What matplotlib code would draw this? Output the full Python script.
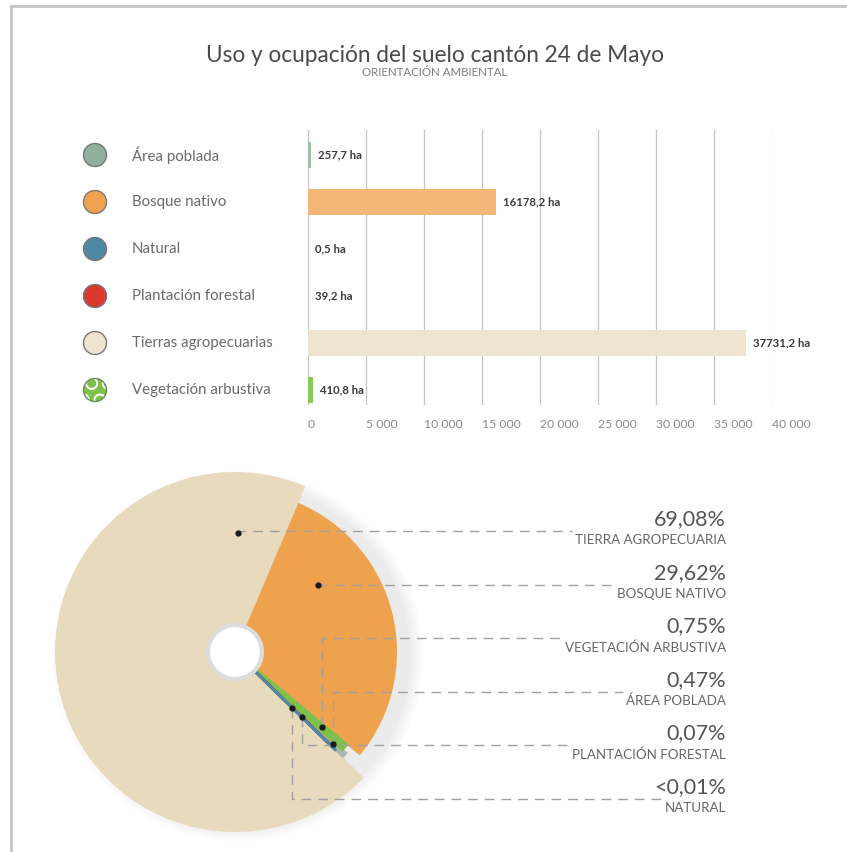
import numpy as np
import matplotlib
matplotlib.use("Agg")
import matplotlib.pyplot as plt
from matplotlib.patches import Wedge, Circle

plt.rcParams["font.family"] = ["Lato", "DejaVu Sans"]

# Data
categories = ["Área poblada", "Bosque nativo", "Natural",
              "Plantación forestal", "Tierras agropecuarias", "Vegetación arbustiva"]
hectares = [257.7, 16178.2, 0.5, 39.2, 37731.2, 410.8]
legend_colors = ["#8fb09f", "#f0a24f", "#4f88a3", "#d9382a", "#efe4cf", "#7cc14a"]
bar_colors = ["#9cbfa9", "#f4b677", "#4f88a3", "#e26a5a", "#efe4cf", "#86c95a"]
x_ticks = [0, 5000, 10000, 15000, 20000, 25000, 30000, 35000, 40000]

# pie: order counterclockwise starting from tierras agropecuarias
pie_order = [4, 2, 3, 0, 5, 1]
pie_colors = ["#e8dabd", "#4f88a3", "#d9382a", "#a8b8b0", "#7cc14a", "#efa24e"]
pie_radius = [180, 140, 138, 150, 145, 162]
pie_z = [2, 5, 4, 3, 3, 2]

# labels on the right, top to bottom
pct_labels = ["69,08%", "29,62%", "0,75%", "0,47%", "0,07%", "<0,01%"]
name_labels = ["TIERRA AGROPECUARIA", "BOSQUE NATIVO", "VEGETACIÓN ARBUSTIVA",
               "ÁREA POBLADA", "PLANTACIÓN FORESTAL", "NATURAL"]
label_cat = [4, 1, 5, 0, 3, 2]

W, H = 847, 852
fig = plt.figure(figsize=(W / 100, H / 100), dpi=100)
fig.patch.set_facecolor("white")

# ---- bar chart ----
axb = fig.add_axes([308 / W, 1 - 405 / H, 464 / W, 275 / H])
y = np.arange(len(categories))
axb.barh(y, hectares, height=0.57, color=bar_colors, zorder=3)
axb.set_xlim(0, 40000)
axb.set_ylim(5.32, -0.53)
axb.set_yticks([])
axb.set_xticks(x_ticks)
axb.set_xticklabels([f"{t:,}".replace(",", " ") for t in x_ticks],
                    ha="left", color="#8a8a8a", fontsize=8.8)
axb.tick_params(axis="x", length=0, pad=10)
axb.grid(axis="x", color="#c4c4c4", linewidth=0.9, zorder=0)
for s in axb.spines.values():
    s.set_visible(False)
for yi, v in zip(y, hectares):
    axb.annotate(f"{v:.1f}".replace(".", ",") + " ha", (v, yi), xytext=(5, 0),
                 textcoords="offset points", va="center", ha="left",
                 fontsize=8.2, fontweight="bold", color="#3a3a3a", zorder=4)

# ---- overlay in pixel coordinates ----
ax = fig.add_axes([0, 0, 1, 1])
ax.set_xlim(0, W)
ax.set_ylim(0, H)
ax.axis("off")

# frame lines
ax.plot([11, W], [H - 6, H - 6], color="#c4c4c4", lw=2)
ax.plot([11, 11], [H - 6, 0], color="#c4c4c4", lw=2)

ax.text(435, H - 55, "Uso y ocupación del suelo cantón 24 de Mayo",
        ha="center", va="center", fontsize=16.3, color="#4a4a4a")
ax.text(435, H - 73, "ORIENTACIÓN AMBIENTAL", ha="center", va="center",
        fontsize=8.3, color="#7a7a7a")

# legend
for i, (cat, col) in enumerate(zip(categories, legend_colors)):
    yy = H - (155 + 47 * i)
    if i == 5:
        ax.add_patch(Circle((95, yy), 11.5, facecolor=col, edgecolor="white",
                            hatch="O", lw=0))
        ax.add_patch(Circle((95, yy), 11.5, facecolor="none", edgecolor="#6a8a5a", lw=1))
    else:
        ax.add_patch(Circle((95, yy), 11.5, facecolor=col, edgecolor="#777777", lw=1))
    ax.text(132, yy, cat, ha="left", va="center", fontsize=10.8, color="#6a6a6a")

# pie
cx, cy = 235, H - 652
ha_arr = np.array(hectares)
sizes = ha_arr[pie_order] / ha_arr.sum() * 360
edges = 67 + np.concatenate([[0], np.cumsum(sizes)])

# soft shadow
for k in range(10):
    ax.add_patch(Circle((cx + 3, cy - 4), 172 + k * 1.5, facecolor="#000000",
                        alpha=0.006, lw=0, zorder=1))

for j, idx in enumerate(pie_order):
    small = sizes[j] < 5
    ax.add_patch(Wedge((cx, cy), pie_radius[j], edges[j], edges[j + 1],
                       facecolor=pie_colors[j], edgecolor=pie_colors[j] if small else "none",
                       lw=2.0 if small else 0, zorder=pie_z[j]))

ax.add_patch(Circle((cx, cy), 27, facecolor="white", edgecolor="#dcdcdc", lw=3, zorder=6))

# anchors: (fraction along wedge, radius) per pie wedge
anchor = {4: (0.087, 119), 1: (0.737, 107), 2: (0.5, 80), 3: (0.5, 94),
          5: (0.5, 115), 0: (0.5, 134)}

fig.canvas.draw()
for i, (p, n, c) in enumerate(zip(pct_labels, name_labels, label_cat)):
    line_y = H - (531 + 53.6 * i)
    tp = ax.text(726, line_y + 2, p, ha="right", va="bottom", fontsize=15.5,
                 color="#555555", zorder=6)
    tn = ax.text(726, line_y - 3, n, ha="right", va="top", fontsize=9.6,
                 color="#666666", zorder=6)
    j = pie_order.index(c)
    frac, r = anchor[c]
    ang = np.deg2rad(edges[j] + frac * sizes[j])
    dx, dy = cx + r * np.cos(ang), cy + r * np.sin(ang)
    bb = tn.get_window_extent(renderer=fig.canvas.get_renderer())
    end_x = bb.x0 - 3
    ax.plot([dx, dx, end_x], [dy, line_y, line_y], color="#a0a0a0", lw=1,
            dashes=(7, 5), zorder=7)
    ax.plot(dx, dy, "o", color="#1a1a1a", ms=3.5, zorder=8)

fig.savefig("out.png", dpi=100)
